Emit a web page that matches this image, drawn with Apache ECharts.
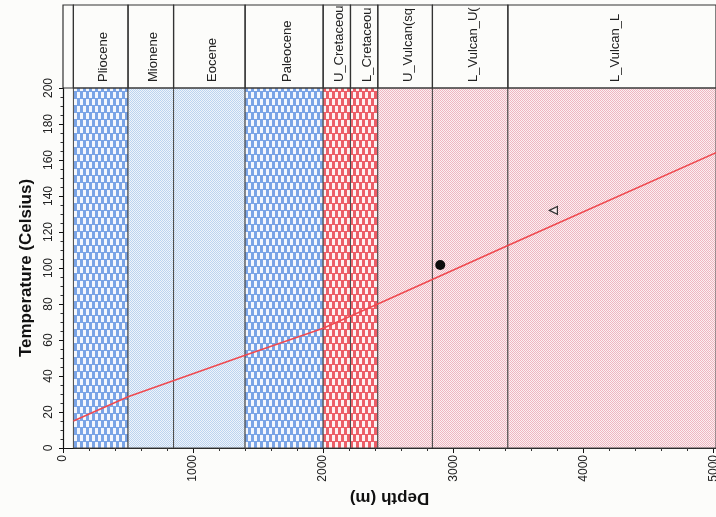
<!DOCTYPE html>
<html>
<head>
<meta charset="utf-8">
<script src="https://cdn.jsdelivr.net/npm/echarts@6/dist/echarts.min.js"></script>
<style>
  html, body { margin: 0; padding: 0; background: #fcfcfa; }
</style>
</head>
<body>
<div id="myChart" style="width: 716px; height: 517px;"></div>
<script>
  // formations (names as printed in the header, clipped like the original)
  const formations = ['Pliocene', 'Mionene', 'Eocene', 'Paleocene', 'U_Cretaceou', 'L_Cretaceou', 'U_Vulcan(sq', 'L_Vulcan_U(', 'L_Vulcan_L'];
  const formationTop = [80, 500, 850, 1400, 2000, 2210, 2420, 2840, 3420];
  const formationBase = [500, 850, 1400, 2000, 2210, 2420, 2840, 3420, 5020];

  // modelled temperature profile
  const modelDepth = [80, 500, 1400, 2000, 2420, 3420, 5020];
  const modelTemp = [15, 28.5, 51.5, 66.5, 80, 112.5, 164];

  // measured temperatures
  const bhtDepth = [2900];
  const bhtTemp = [101.7];
  const dstDepth = [3770];
  const dstTemp = [132];

  const depthMin = 0, depthMax = 5020;
  const tempMin = 0, tempMax = 200;

  // fill patterns
  function brick(line, cell) {
    const c = document.createElement('canvas');
    c.width = 6; c.height = 14;
    const g = c.getContext('2d');
    g.fillStyle = line; g.fillRect(0, 0, 6, 14);
    g.fillStyle = cell;
    g.fillRect(2, 1, 3, 6);
    g.fillRect(-1, 8, 3, 6);
    g.fillRect(5, 8, 3, 6);
    return { image: c, repeat: 'repeat' };
  }
  function dots(bg, dot) {
    const c = document.createElement('canvas');
    c.width = 2; c.height = 2;
    const g = c.getContext('2d');
    g.fillStyle = bg; g.fillRect(0, 0, 2, 2);
    g.fillStyle = dot;
    g.fillRect(0, 0, 1, 1);
    g.fillRect(1, 1, 1, 1);
    return { image: c, repeat: 'repeat' };
  }
  const blueBrick = brick('#7aa4e6', '#f4f7fd');
  const blueDot = dots('#eef4fb', '#bcd3ef');
  const redBrick = brick('#ec5f68', '#fdf2f2');
  const pinkDot = dots('#fbf0f1', '#efb6c1');
  const fills = [blueBrick, blueDot, blueDot, blueBrick, redBrick, redBrick, pinkDot, pinkDot, pinkDot];

  const bands = formations.map((n, i) => [formationTop[i], formationBase[i]]);

  let myChart = echarts.init(document.getElementById('myChart'));
  myChart.setOption({
    backgroundColor: '#fcfcfa',
    animation: false,
    textStyle: { fontFamily: 'Liberation Sans' },
    grid: [
      { left: 63, right: 0, top: 88, bottom: 69, outerBoundsMode: 'none' },
      { left: 63, right: 0, top: 5, height: 83, outerBoundsMode: 'none' }
    ],
    xAxis: [
      {
        type: 'value',
        gridIndex: 0,
        min: depthMin,
        max: depthMax,
        interval: 1000,
        axisLine: { show: true, onZero: false, lineStyle: { color: '#111', width: 1.2 } },
        axisTick: { show: true, inside: false, length: 5, lineStyle: { color: '#111' } },
        minorTick: { show: true, splitNumber: 5, length: 3, lineStyle: { color: '#333' } },
        splitLine: { show: false },
        axisLabel: {
          rotate: 90,
          margin: 7,
          fontSize: 12,
          color: '#222',
          formatter: v => (v % 1000 === 0 ? String(v) : '')
        },
        name: 'Depth (m)',
        nameLocation: 'middle',
        nameRotate: 180,
        nameGap: 31,
        nameTextStyle: { fontSize: 17, fontWeight: 'bold', color: '#111' }
      },
      { type: 'value', gridIndex: 1, min: depthMin, max: depthMax, show: false }
    ],
    yAxis: [
      {
        type: 'value',
        gridIndex: 0,
        min: tempMin,
        max: tempMax,
        interval: 20,
        axisLine: { show: true, onZero: false, lineStyle: { color: '#111', width: 1.2 } },
        axisTick: { show: true, inside: false, length: 4, lineStyle: { color: '#111' } },
        minorTick: { show: true, splitNumber: 4, length: 2.5, lineStyle: { color: '#333' } },
        splitLine: { show: false },
        axisLabel: { rotate: 90, margin: 8, fontSize: 12, color: '#222' },
        name: 'Temperature (Celsius)',
        nameLocation: 'middle',
        nameGap: 28,
        nameTextStyle: { fontSize: 17, fontWeight: 'bold', color: '#111' }
      },
      { type: 'value', gridIndex: 1, min: 0, max: 1, show: false }
    ],
    series: [
      {
        // lithology columns
        type: 'custom',
        xAxisIndex: 0,
        yAxisIndex: 0,
        z: 1,
        silent: true,
        data: bands,
        encode: { x: [0, 1] },
        renderItem: function (params, api) {
          const p0 = api.coord([api.value(0), tempMax]);
          const p1 = api.coord([api.value(1), tempMin]);
          return {
            type: 'rect',
            shape: { x: p0[0], y: p0[1], width: p1[0] - p0[0], height: p1[1] - p0[1] },
            style: { fill: fills[params.dataIndex], stroke: '#4a4a4a', lineWidth: 1 }
          };
        }
      },
      {
        // formation header
        type: 'custom',
        xAxisIndex: 1,
        yAxisIndex: 1,
        z: 1,
        silent: true,
        data: bands,
        encode: { x: [0, 1] },
        renderItem: function (params, api) {
          const cs = params.coordSys;
          const x0 = api.coord([api.value(0), 0])[0];
          const x1 = api.coord([api.value(1), 0])[0];
          const children = [
            {
              type: 'rect',
              shape: { x: x0, y: cs.y, width: x1 - x0, height: cs.height },
              style: { fill: null, stroke: '#333', lineWidth: 1.2 }
            },
            {
              type: 'text',
              x: (x0 + x1) / 2 + 3,
              y: cs.y + cs.height - 6,
              rotation: Math.PI / 2,
              style: {
                text: formations[params.dataIndex],
                textAlign: 'left',
                textVerticalAlign: 'middle',
                font: '13px "Liberation Sans"',
                fill: '#222'
              }
            }
          ];
          if (params.dataIndex === 0) {
            const xs = api.coord([depthMin, 0])[0];
            children.push({
              type: 'rect',
              shape: { x: xs, y: cs.y, width: x0 - xs, height: cs.height },
              style: { fill: null, stroke: '#333', lineWidth: 1.2 }
            });
          }
          return { type: 'group', children: children };
        }
      },
      {
        name: 'model',
        type: 'line',
        xAxisIndex: 0,
        yAxisIndex: 0,
        z: 3,
        symbol: 'none',
        data: modelDepth.map((d, i) => [d, modelTemp[i]]),
        lineStyle: { color: '#ef4a50', width: 1.5 }
      },
      {
        name: 'BHT',
        type: 'scatter',
        xAxisIndex: 0,
        yAxisIndex: 0,
        z: 4,
        symbol: 'circle',
        symbolSize: 10,
        data: bhtDepth.map((d, i) => [d, bhtTemp[i]]),
        itemStyle: { color: '#0d0d0d', opacity: 1 }
      },
      {
        name: 'DST',
        type: 'scatter',
        xAxisIndex: 0,
        yAxisIndex: 0,
        z: 4,
        symbol: 'triangle',
        symbolRotate: 90,
        symbolSize: 8,
        data: dstDepth.map((d, i) => [d, dstTemp[i]]),
        itemStyle: { color: '#fbeaed', borderColor: '#333', borderWidth: 1.2, opacity: 1 }
      }
    ]
  });
</script>
</body>
</html>
